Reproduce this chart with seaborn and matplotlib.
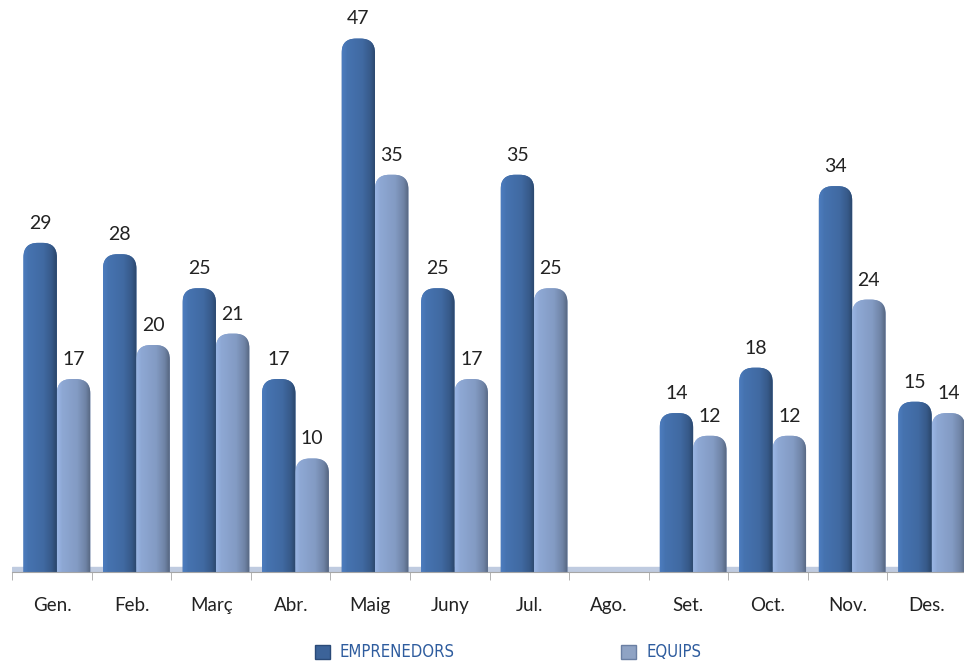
import numpy as np
import pandas as pd
import seaborn as sns
import matplotlib.pyplot as plt
from matplotlib.patches import FancyBboxPatch, Patch
from matplotlib.colors import to_rgb

# dades mensuals
mesos = ['Gen.', 'Feb.', 'Març', 'Abr.', 'Maig', 'Juny', 'Jul.', 'Ago.', 'Set.', 'Oct.', 'Nov.', 'Des.']
emprenedors = [29, 28, 25, 17, 47, 25, 35, 0, 14, 18, 34, 15]
equips = [17, 20, 21, 10, 35, 17, 25, 0, 12, 12, 24, 14]
series = ['Emprenedors', 'Equips']

df = pd.DataFrame({
    'mes': mesos * 2,
    'valor': emprenedors + equips,
    'serie': [series[0]] * len(mesos) + [series[1]] * len(mesos),
})

fosc = '#4673B0'
clar = '#8EA8D4'

sns.set_style('white')
plt.rcParams['font.family'] = ['Lato', 'DejaVu Sans']

fig = plt.figure(figsize=(9.64, 6.61), dpi=100)
ax = fig.add_axes([0.0128, (661 - 572) / 661, 0.99, 572 / 661])

sns.barplot(data=df, x='mes', y='valor', hue='serie', palette=[fosc, clar],
            width=0.84, saturation=1, legend=False, ax=ax)

# barres arrodonides amb degradat, com l'original
r = 0.18
aspect = 7.0
shift = 0.06


def gradient(color, n=64):
    c = np.array(to_rgb(color))
    t = np.linspace(0, 1, n)
    # clar a l'esquerra, fosc a la dreta
    k = np.interp(t, [0, 0.15, 0.6, 0.85, 1], [1.08, 1.0, 0.92, 0.78, 0.6])
    img = np.clip(c[None, :] * k[:, None], 0, 1)
    return img[None, :, :]


for cont, col in zip(ax.containers, [fosc, clar]):
    for bar in cont:
        h = bar.get_height()
        x = bar.get_x() + shift
        w = bar.get_width()
        bar.set_visible(False)
        if h <= 0:
            continue
        y0 = -r * aspect
        p = FancyBboxPatch((x, y0), w, h - y0,
                           boxstyle=f'round,pad=0,rounding_size={r}',
                           mutation_aspect=aspect, facecolor=col,
                           edgecolor='none', zorder=2)
        ax.add_patch(p)
        im = ax.imshow(gradient(col), extent=[x, x + w, y0, h], aspect='auto',
                       zorder=2.5, interpolation='bilinear')
        im.set_clip_path(p)
        ax.annotate(f'{h:.0f}', (x + w / 2, h), xytext=(0, 8),
                    textcoords='offset points', ha='center', va='bottom',
                    fontsize=14, color='#222222')

ax.set_ylim(0, 50.4)
ax.set_xlim(-0.5, len(mesos) - 0.5)

# terra del gràfic
ax.axhspan(0, 0.4, color='#BFCBE0', zorder=1)

for s in ['top', 'right', 'left']:
    ax.spines[s].set_visible(False)
ax.spines['bottom'].set_color('#A6A6A6')
ax.set_yticks([])
ax.set_xticks(range(len(mesos)))
ax.set_xticklabels(mesos)
ax.set_xticks(np.arange(-0.5, len(mesos)), minor=True)
ax.tick_params(axis='x', which='major', length=0, pad=18, labelsize=13.5,
               labelcolor='#222222')
ax.tick_params(axis='x', which='minor', length=6, color='#A6A6A6',
               direction='out', bottom=True)
ax.set_xlabel('')
ax.set_ylabel('')

handles = [Patch(facecolor='#3C6399', edgecolor='#2A4A78'),
           Patch(facecolor='#8FA3C4', edgecolor='#6A7FA3')]
fig.legend(handles, [s.upper() for s in series], loc='center',
           bbox_to_anchor=(0.527, 0.013), ncol=2, frameon=False,
           handlelength=0.9, handleheight=0.9, handletextpad=0.6,
           columnspacing=10, labelcolor='#2E5C9E',
           prop={'family': ['Liberation Sans Narrow', 'DejaVu Sans'],
                 'stretch': 'condensed', 'size': 12})

fig.savefig('out.png', dpi=100)
